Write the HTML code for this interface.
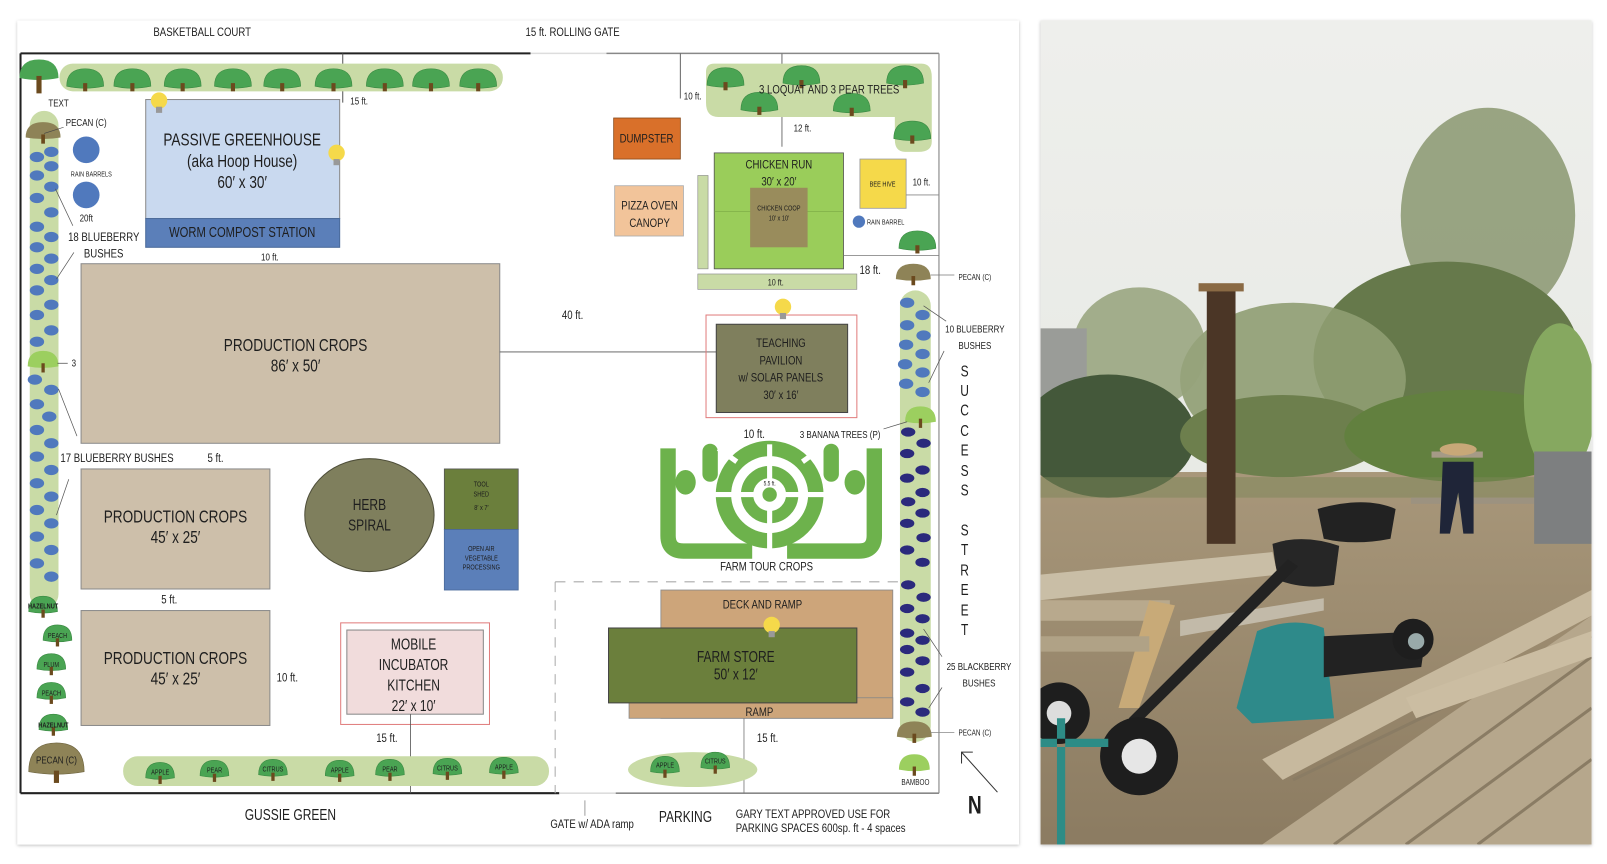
<!DOCTYPE html>
<html><head><meta charset="utf-8"><style>
html,body{margin:0;padding:0;background:#fff;width:1607px;height:864px;overflow:hidden}
svg{display:block}
text{font-family:"Liberation Sans",sans-serif;fill:#1e1e1e;text-anchor:middle;transform-box:fill-box;transform-origin:center;transform:scaleX(.78)}
text.st{text-anchor:start;transform-origin:left center}
text.en{text-anchor:end;transform-origin:right center}
.s{font-size:10px}.m{font-size:12px}.l{font-size:17px}.t{font-size:7px}
.bb{fill:#5079bd}.nb{fill:#2b2a7c}
</style></head><body>
<svg width="1607" height="864" viewBox="0 0 1566 842" preserveAspectRatio="none" xmlns="http://www.w3.org/2000/svg">
<defs>
<filter id="sh" x="-5%" y="-5%" width="110%" height="110%"><feDropShadow dx="0" dy="1" stdDeviation="1.5" flood-color="#000" flood-opacity=".25"/></filter>
<linearGradient id="sky" x1="0" y1="0" x2="0" y2="1"><stop offset="0" stop-color="#eeefec"/><stop offset="1" stop-color="#e3e5df"/></linearGradient>
<linearGradient id="gr" x1="0" y1="0" x2="0" y2="1"><stop offset="0" stop-color="#a8977a"/><stop offset="1" stop-color="#8a7a60"/></linearGradient>
<g id="tree"><path d="M-18,0 Q-18,-17 0,-17 Q18,-17 18,0 Q0,4 -18,0Z" fill="#4aa453" stroke="#3b8a43" stroke-width=".6"/><rect x="-2" y="-3" width="4" height="8" fill="#6b4a1e"/></g>
<g id="stree"><path d="M-14,0 Q-14,-15 0,-15 Q14,-15 14,0 Q0,3 -14,0Z" fill="#4aa453" stroke="#3b8a43" stroke-width=".6"/><rect x="-1.6" y="-2" width="3.2" height="8" fill="#6b4a1e"/></g>
<g id="ltree"><path d="M-15,0 Q-15,-15 0,-15 Q15,-15 15,0 Q0,3 -15,0Z" fill="#9ccf5f"/><rect x="-1.6" y="-3" width="3.2" height="9" fill="#6b4a1e"/></g>
<g id="pecan"><path d="M-17,0 Q-17,-15 0,-15 Q17,-15 17,0 Q0,3 -17,0Z" fill="#8e8357"/><rect x="-1.8" y="-3" width="3.6" height="9" fill="#6b4a1e"/></g>
<g id="bulb"><circle r="8" fill="#f5d94a"/><rect x="-3" y="6" width="6" height="6" fill="#999"/></g>
</defs>

<rect x="17" y="20" width="976" height="803" fill="#fff" filter="url(#sh)"/>
<text class="m" x="197" y="35">BASKETBALL COURT</text>
<text class="m" x="558" y="35">15 ft. ROLLING GATE</text>

<line x1="20" y1="52" x2="517" y2="52" stroke="#222" stroke-width="2"/>
<line x1="517" y1="52" x2="591" y2="52" stroke="#ddd" stroke-width="1.5"/>
<line x1="591" y1="52" x2="915" y2="52" stroke="#888" stroke-width="1.5"/>
<line x1="20" y1="52" x2="20" y2="773" stroke="#222" stroke-width="2"/>
<line x1="915" y1="52" x2="915" y2="773" stroke="#999" stroke-width="1.3"/>
<line x1="20" y1="773" x2="545" y2="773" stroke="#222" stroke-width="2"/>
<line x1="545" y1="773" x2="600" y2="773" stroke="#ddd" stroke-width="1.5"/>
<line x1="600" y1="773" x2="915" y2="773" stroke="#888" stroke-width="1.5"/>
<line x1="334" y1="52" x2="334" y2="100" stroke="#555" stroke-width="1"/>
<text class="s" x="350" y="102">15 ft.</text>
<line x1="663" y1="52" x2="663" y2="96" stroke="#666" stroke-width="1"/>
<text class="s" x="675" y="97">10 ft.</text>
<line x1="762" y1="52" x2="762" y2="143" stroke="#777" stroke-width="1"/>
<text class="s" x="782" y="128">12 ft.</text>
<path d="M541,567 H880 M541,567 V773" stroke="#aaa" stroke-width="1" stroke-dasharray="10,8" fill="none"/>

<rect x="58" y="62" width="432" height="27" rx="13" fill="#c9dba6"/>
<g transform="translate(38,76)"><path d="M-19,0 Q-19,-18 0,-18 Q19,-18 19,0 Q0,4 -19,0Z" fill="#4aa453"/><rect x="-2.5" y="-2" width="5" height="17" fill="#6b4a1e"/></g>
<use href="#tree" x="83" y="84"/><use href="#tree" x="129" y="84"/><use href="#tree" x="178" y="84"/><use href="#tree" x="227" y="84"/><use href="#tree" x="275" y="84"/><use href="#tree" x="325" y="84"/><use href="#tree" x="375" y="84"/><use href="#tree" x="420" y="84"/><use href="#tree" x="466" y="84"/>
<text class="s" x="57" y="104">TEXT</text>

<rect x="29" y="108" width="28" height="485" rx="14" fill="#c9dba6"/>
<use href="#pecan" x="42" y="134"/>
<line x1="43" y1="130" x2="62" y2="124" stroke="#444" stroke-width=".6"/>
<text class="s" x="84" y="123">PECAN (C)</text>
<g class="bb">
<ellipse cx="50" cy="148" rx="7" ry="5"/><ellipse cx="36" cy="153" rx="7" ry="5"/><ellipse cx="50" cy="162" rx="7" ry="5"/><ellipse cx="36" cy="171" rx="7" ry="5"/><ellipse cx="50" cy="182" rx="7" ry="5"/><ellipse cx="36" cy="193" rx="7" ry="5"/><ellipse cx="50" cy="207" rx="7" ry="5"/><ellipse cx="36" cy="221" rx="7" ry="5"/><ellipse cx="50" cy="231" rx="7" ry="5"/><ellipse cx="36" cy="241" rx="7" ry="5"/><ellipse cx="50" cy="252" rx="7" ry="5"/><ellipse cx="36" cy="262" rx="7" ry="5"/><ellipse cx="50" cy="273" rx="7" ry="5"/><ellipse cx="36" cy="283" rx="7" ry="5"/><ellipse cx="50" cy="297" rx="7" ry="5"/><ellipse cx="36" cy="307" rx="7" ry="5"/><ellipse cx="50" cy="322" rx="7" ry="5"/><ellipse cx="36" cy="333" rx="7" ry="5"/>
<ellipse cx="34" cy="370" rx="7" ry="5"/><ellipse cx="50" cy="380" rx="7" ry="5"/><ellipse cx="36" cy="394" rx="7" ry="5"/><ellipse cx="48" cy="406" rx="7" ry="5"/><ellipse cx="36" cy="419" rx="7" ry="5"/><ellipse cx="50" cy="432" rx="7" ry="5"/><ellipse cx="36" cy="445" rx="7" ry="5"/><ellipse cx="50" cy="458" rx="7" ry="5"/><ellipse cx="36" cy="471" rx="7" ry="5"/><ellipse cx="50" cy="484" rx="7" ry="5"/><ellipse cx="36" cy="497" rx="7" ry="5"/><ellipse cx="50" cy="510" rx="7" ry="5"/><ellipse cx="36" cy="523" rx="7" ry="5"/><ellipse cx="50" cy="536" rx="7" ry="5"/><ellipse cx="36" cy="549" rx="7" ry="5"/><ellipse cx="50" cy="562" rx="7" ry="5"/>
<circle cx="84" cy="146" r="13"/><circle cx="84" cy="190" r="13"/>
</g>
<text class="t" x="89" y="172">RAIN BARRELS</text>
<text class="s" x="84" y="216">20ft</text>
<text class="m" x="101" y="235">18 BLUEBERRY</text>
<text class="m" x="101" y="251">BUSHES</text>
<line x1="54" y1="184" x2="71" y2="220" stroke="#555" stroke-width=".7"/>
<line x1="55" y1="272" x2="72" y2="246" stroke="#555" stroke-width=".7"/>
<use href="#ltree" x="42" y="357"/>
<line x1="56" y1="354" x2="66" y2="354" stroke="#444" stroke-width=".7"/>
<text class="s" x="72" y="357">3</text>
<line x1="57" y1="379" x2="75" y2="425" stroke="#555" stroke-width=".7"/>
<line x1="67" y1="467" x2="55" y2="502" stroke="#555" stroke-width=".7"/>

<use href="#stree" x="42" y="596"/><text class="t" x="42" y="593" style="font-weight:bold">HAZELNUT</text>
<use href="#stree" x="56" y="624"/><text class="t" x="56" y="622">PEACH</text>
<use href="#stree" x="50" y="652"/><text class="t" x="50" y="650">PLUM</text>
<use href="#stree" x="50" y="680"/><text class="t" x="50" y="678">PEACH</text>
<use href="#stree" x="52" y="711"/><text class="t" x="52" y="709" style="font-weight:bold">HAZELNUT</text>
<g transform="translate(55,752)"><path d="M-27,0 Q-27,-28 0,-28 Q27,-28 27,0 Q0,5 -27,0Z" fill="#8e8357" stroke="#6e643f" stroke-width=".6"/><rect x="-2.5" y="-1" width="5" height="12" fill="#6b4a1e"/></g>
<text class="s" x="55" y="744">PECAN (C)</text>

<rect x="142" y="97" width="189" height="116" fill="#c9d9ef" stroke="#8a8a8a" stroke-width="1"/>
<rect x="142" y="213" width="189" height="28" fill="#5b7fb9" stroke="#4a6a9a" stroke-width="1"/>
<text class="l" x="236" y="142">PASSIVE GREENHOUSE</text>
<text class="l" x="236" y="163">(aka Hoop House)</text>
<text class="l" x="236" y="183">60′ x 30′</text>
<text class="m" x="236" y="231" style="font-size:14px">WORM COMPOST STATION</text>
<use href="#bulb" x="155" y="98"/><use href="#bulb" x="328" y="149"/>
<text class="s" x="263" y="254">10 ft.</text>

<rect x="79" y="257" width="408" height="175" fill="#cdbfaa" stroke="#8a8a8a" stroke-width="1"/>
<text class="l" x="288" y="342">PRODUCTION CROPS</text>
<text class="l" x="288" y="362">86′ x 50′</text>
<line x1="487" y1="343" x2="698" y2="343" stroke="#555" stroke-width=".8"/>
<text class="m" x="558" y="311">40 ft.</text>
<text class="m" x="114" y="450">17 BLUEBERRY BUSHES</text>
<text class="m" x="210" y="450">5 ft.</text>
<rect x="79" y="457" width="184" height="117" fill="#cdbfaa" stroke="#8a8a8a" stroke-width="1"/>
<text class="l" x="171" y="509">PRODUCTION CROPS</text>
<text class="l" x="171" y="529">45′ x 25′</text>
<text class="m" x="165" y="588">5 ft.</text>
<rect x="79" y="595" width="184" height="112" fill="#cdbfaa" stroke="#8a8a8a" stroke-width="1"/>
<text class="l" x="171" y="647">PRODUCTION CROPS</text>
<text class="l" x="171" y="667">45′ x 25′</text>
<text class="m" x="280" y="664">10 ft.</text>

<ellipse cx="360" cy="502" rx="63" ry="55" fill="#7f7f5d" stroke="#4f4f3a" stroke-width="1"/>
<text class="l" x="360" y="497" style="font-size:15px">HERB</text>
<text class="l" x="360" y="517" style="font-size:15px">SPIRAL</text>
<rect x="433" y="457" width="72" height="59" fill="#6b7f3c" stroke="#555" stroke-width=".8"/>
<rect x="433" y="516" width="72" height="59" fill="#5b7fb9" stroke="#4a6a9a" stroke-width=".8"/>
<text class="t" x="469" y="474">TOOL</text><text class="t" x="469" y="484">SHED</text><text class="t" x="469" y="497">8′ x 7′</text>
<text class="t" x="469" y="537">OPEN AIR</text><text class="t" x="469" y="546">VEGETABLE</text><text class="t" x="469" y="555">PROCESSING</text>

<rect x="332" y="607" width="145" height="99" fill="none" stroke="#e07d7d" stroke-width="1"/>
<rect x="338" y="614" width="133" height="82" fill="#f1dcdc" stroke="#888" stroke-width="1"/>
<text class="l" x="403" y="633" style="font-size:15px">MOBILE</text>
<text class="l" x="403" y="653" style="font-size:15px">INCUBATOR</text>
<text class="l" x="403" y="673" style="font-size:15px">KITCHEN</text>
<text class="l" x="403" y="693" style="font-size:15px">22′ x 10′</text>
<line x1="400" y1="696" x2="400" y2="773" stroke="#555" stroke-width=".8"/>
<text class="m" x="377" y="723">15 ft.</text>

<rect x="120" y="737" width="415" height="29" rx="14" fill="#c9dba6"/>
<use href="#stree" x="156" y="758"/><text class="t" x="156" y="755">APPLE</text>
<use href="#stree" x="209" y="756"/><text class="t" x="209" y="753">PEAR</text>
<use href="#stree" x="266" y="755"/><text class="t" x="266" y="752">CITRUS</text>
<use href="#stree" x="331" y="756"/><text class="t" x="331" y="753">APPLE</text>
<use href="#stree" x="380" y="755"/><text class="t" x="380" y="752">PEAR</text>
<use href="#stree" x="436" y="754"/><text class="t" x="436" y="751">CITRUS</text>
<use href="#stree" x="491" y="753"/><text class="t" x="491" y="750">APPLE</text>

<text class="l" x="283" y="799" style="font-size:15px">GUSSIE GREEN</text>
<line x1="570" y1="780" x2="570" y2="795" stroke="#888" stroke-width=".8"/>
<text class="m" x="577" y="807">GATE w/ ADA ramp</text>
<text class="l" x="668" y="801" style="font-size:15px">PARKING</text>
<text class="m st" x="717" y="797">GARY TEXT APPROVED USE FOR</text>
<text class="m st" x="717" y="811">PARKING SPACES 600sp. ft - 4 spaces</text>
<text x="950" y="793" style="font-size:24px;font-weight:bold">N</text>
<line x1="937" y1="733" x2="972" y2="772" stroke="#333" stroke-width="1"/>
<path d="M937,744 V733 H948" fill="none" stroke="#333" stroke-width="1"/>

<path d="M696,62 H898 Q908,62 908,75 V138 Q908,148 895,148 H882 Q872,148 872,136 V114 H700 Q688,114 688,100 V70 Q688,62 696,62Z" fill="#c9dba6"/>
<use href="#tree" x="707" y="83"/><use href="#tree" x="740" y="107"/><use href="#tree" x="781" y="81"/><use href="#tree" x="830" y="108"/><use href="#tree" x="882" y="81"/><use href="#tree" x="889" y="135"/><use href="#tree" x="894" y="242"/>
<line x1="762" y1="52" x2="762" y2="62" stroke="#777" stroke-width="1"/>
<text class="m" x="808" y="91">3 LOQUAT AND 3 PEAR TREES</text>
<rect x="598" y="115" width="65" height="40" fill="#d9702a" stroke="#8a4a1a" stroke-width=".8"/>
<text class="m" x="630" y="139">DUMPSTER</text>
<rect x="599" y="181" width="67" height="49" fill="#f2c49a" stroke="#aaa" stroke-width=".8"/>
<text class="m" x="633" y="204">PIZZA OVEN</text><text class="m" x="633" y="221">CANOPY</text>
<rect x="680" y="171" width="10" height="91" fill="#c9dba6" stroke="#888" stroke-width=".6"/>
<rect x="696" y="149" width="126" height="113" fill="#9acd5a" stroke="#555" stroke-width=".8"/>
<line x1="696" y1="206" x2="822" y2="206" stroke="#7aa845" stroke-width=".6"/>
<rect x="731" y="183" width="56" height="58" fill="#998c5c"/>
<text class="m" x="759" y="164">CHICKEN RUN</text><text class="m" x="759" y="181">30′ x 20′</text>
<text class="t" x="759" y="205">CHICKEN COOP</text><text class="t" x="759" y="215">10′ x 10′</text>
<rect x="680" y="267" width="155" height="15" fill="#c9dba6" stroke="#888" stroke-width=".6"/>
<text class="t" x="756" y="278" style="font-size:9px">10 ft.</text>
<rect x="838" y="155" width="45" height="48" fill="#f5d94a" stroke="#999" stroke-width=".8"/>
<text class="t" x="860" y="182">BEE HIVE</text>
<line x1="883" y1="190" x2="915" y2="190" stroke="#888" stroke-width=".8"/>
<text class="s" x="898" y="181">10 ft.</text>
<circle cx="837" cy="216" r="6" fill="#5079bd"/>
<text class="t" x="863" y="219">RAIN BARREL</text>
<line x1="822" y1="249" x2="915" y2="249" stroke="#777" stroke-width=".8"/>
<text class="m" x="848" y="267">18 ft.</text>
<use href="#pecan" x="890" y="272"/>
<line x1="907" y1="268" x2="930" y2="268" stroke="#777" stroke-width=".7"/>
<text class="t" x="950" y="273" style="font-size:8px">PECAN (C)</text>

<rect x="688" y="307" width="147" height="100" fill="none" stroke="#e07d7d" stroke-width="1"/>
<rect x="698" y="316" width="128" height="86" fill="#7f7f5d" stroke="#444" stroke-width="1"/>
<use href="#bulb" x="763" y="299"/>
<text class="m" x="761" y="338">TEACHING</text><text class="m" x="761" y="355">PAVILION</text>
<text class="m" x="761" y="372">w/ SOLAR PANELS</text><text class="m" x="761" y="389">30′ x 16′</text>

<rect x="877" y="283" width="30" height="440" rx="15" fill="#c9dba6"/>
<g class="bb"><ellipse cx="884" cy="295" rx="7" ry="5"/><ellipse cx="899" cy="307" rx="7" ry="5"/><ellipse cx="884" cy="317" rx="7" ry="5"/><ellipse cx="900" cy="327" rx="7" ry="5"/><ellipse cx="883" cy="336" rx="7" ry="5"/><ellipse cx="899" cy="345" rx="7" ry="5"/><ellipse cx="882" cy="355" rx="7" ry="5"/><ellipse cx="899" cy="363" rx="7" ry="5"/><ellipse cx="883" cy="374" rx="7" ry="5"/><ellipse cx="899" cy="382" rx="7" ry="5"/></g>
<use href="#ltree" x="897" y="411"/>
<g class="nb"><ellipse cx="885" cy="421" rx="7" ry="4.5"/><ellipse cx="900" cy="432" rx="7" ry="4.5"/><ellipse cx="884" cy="442" rx="7" ry="4.5"/><ellipse cx="899" cy="458" rx="7" ry="4.5"/><ellipse cx="884" cy="466" rx="7" ry="4.5"/><ellipse cx="899" cy="480" rx="7" ry="4.5"/><ellipse cx="885" cy="489" rx="7" ry="4.5"/><ellipse cx="899" cy="500" rx="7" ry="4.5"/><ellipse cx="884" cy="510" rx="7" ry="4.5"/><ellipse cx="900" cy="524" rx="7" ry="4.5"/><ellipse cx="884" cy="536" rx="7" ry="4.5"/><ellipse cx="899" cy="548" rx="7" ry="4.5"/><ellipse cx="885" cy="570" rx="7" ry="4.5"/><ellipse cx="900" cy="582" rx="7" ry="4.5"/><ellipse cx="884" cy="593" rx="7" ry="4.5"/><ellipse cx="899" cy="603" rx="7" ry="4.5"/><ellipse cx="884" cy="617" rx="7" ry="4.5"/><ellipse cx="899" cy="624" rx="7" ry="4.5"/><ellipse cx="884" cy="633" rx="7" ry="4.5"/><ellipse cx="899" cy="644" rx="7" ry="4.5"/><ellipse cx="884" cy="655" rx="7" ry="4.5"/><ellipse cx="899" cy="671" rx="7" ry="4.5"/><ellipse cx="884" cy="684" rx="7" ry="4.5"/><ellipse cx="899" cy="694" rx="7" ry="4.5"/></g>
<use href="#pecan" x="891" y="718"/>
<use href="#ltree" x="891" y="750"/>
<text class="t" x="892" y="765" style="font-size:8px">BAMBOO</text>
<line x1="907" y1="714" x2="930" y2="714" stroke="#888" stroke-width=".7"/>
<text class="t" x="950" y="717" style="font-size:8px">PECAN (C)</text>
<text class="s" x="950" y="324">10 BLUEBERRY</text><text class="s" x="950" y="340">BUSHES</text>
<line x1="900" y1="298" x2="922" y2="313" stroke="#555" stroke-width=".7"/>
<line x1="905" y1="373" x2="920" y2="342" stroke="#555" stroke-width=".7"/>
<text class="s" x="954" y="653">25 BLACKBERRY</text><text class="s" x="954" y="669">BUSHES</text>
<line x1="900" y1="613" x2="918" y2="640" stroke="#555" stroke-width=".7"/>
<line x1="905" y1="690" x2="918" y2="670" stroke="#555" stroke-width=".7"/>
<text class="en" x="858" y="427" style="font-size:10px">3 BANANA TREES (P)</text>
<line x1="861" y1="418" x2="884" y2="411" stroke="#555" stroke-width=".7"/>
<text class="m" x="735" y="427">10 ft.</text>
<g style="font-size:15px">
<text x="940" y="367">S</text><text x="940" y="386">U</text><text x="940" y="405">C</text><text x="940" y="425">C</text><text x="940" y="444">E</text><text x="940" y="464">S</text><text x="940" y="483">S</text>
<text x="940" y="522">S</text><text x="940" y="541">T</text><text x="940" y="561">R</text><text x="940" y="580">E</text><text x="940" y="600">E</text><text x="940" y="619">T</text>
</g>

<g fill="none" stroke="#6db24c">
<path d="M651,437 V522 Q651,537 666,537 H733" stroke-width="15"/>
<path d="M852,437 V522 Q852,537 837,537 H767" stroke-width="15"/>
<path d="M692,440 V462" stroke-width="15" stroke-linecap="round"/>
<path d="M810,440 V462" stroke-width="15" stroke-linecap="round"/>
<circle cx="750" cy="482" r="22" stroke-width="12"/>
<circle cx="750" cy="482" r="45" stroke-width="15"/>
</g>
<circle cx="750" cy="482" r="7" fill="#6db24c"/>
<ellipse cx="668" cy="470" rx="10" ry="12" fill="#6db24c"/>
<ellipse cx="833" cy="470" rx="10" ry="12" fill="#6db24c"/>
<g stroke="#fff" stroke-width="5">
<line x1="750" y1="433" x2="750" y2="474"/><line x1="750" y1="490" x2="750" y2="546"/>
<line x1="690" y1="482" x2="742" y2="482"/><line x1="758" y1="482" x2="812" y2="482"/>
<line x1="700" y1="437" x2="718" y2="450"/><line x1="800" y1="437" x2="782" y2="450"/>
</g>
<text class="t" x="750" y="473" style="font-size:6px">5.5 ft.</text>
<text class="m" x="747" y="556">FARM TOUR CROPS</text>

<rect x="644" y="575" width="226" height="125" fill="#cda57a" stroke="#888" stroke-width=".8"/>
<rect x="613" y="680" width="257" height="20" fill="#cda57a" stroke="#888" stroke-width=".8"/>
<rect x="593" y="612" width="242" height="73" fill="#6b7f3c" stroke="#444" stroke-width="1"/>
<text class="m" x="743" y="593">DECK AND RAMP</text>
<text class="l" x="717" y="645" style="font-size:15px">FARM STORE</text>
<text class="l" x="717" y="662" style="font-size:15px">50′ x 12′</text>
<text class="m" x="740" y="698">RAMP</text>
<use href="#bulb" x="752" y="609"/>
<line x1="725" y1="700" x2="725" y2="773" stroke="#777" stroke-width=".8"/>
<text class="m" x="748" y="723">15 ft.</text>
<ellipse cx="675" cy="750" rx="63" ry="17" fill="#c9dba6"/>
<use href="#stree" x="648" y="752"/><text class="t" x="648" y="748">APPLE</text>
<use href="#stree" x="697" y="748"/><text class="t" x="697" y="744">CITRUS</text>

<!-- photo -->
<g filter="url(#sh)"><rect x="1014" y="20" width="537" height="803" fill="#e8e9e6"/></g>
<clipPath id="pc"><rect x="1014" y="20" width="537" height="803"/></clipPath>
<g clip-path="url(#pc)">
<rect x="1014" y="20" width="537" height="803" fill="url(#sky)"/>
<rect x="1014" y="460" width="537" height="380" fill="url(#gr)"/>
<ellipse cx="1450" cy="210" rx="85" ry="105" fill="#8a9670" opacity=".85"/>
<ellipse cx="1410" cy="350" rx="130" ry="95" fill="#66794b"/>
<ellipse cx="1260" cy="370" rx="110" ry="75" fill="#8f9d72" opacity=".9"/>
<ellipse cx="1110" cy="340" rx="65" ry="60" fill="#95a27a" opacity=".85"/>
<rect x="1014" y="320" width="45" height="100" fill="#9a9c98"/>
<ellipse cx="1080" cy="425" rx="85" ry="60" fill="#44583a"/>
<ellipse cx="1250" cy="425" rx="100" ry="40" fill="#6d7f4d"/>
<ellipse cx="1430" cy="425" rx="120" ry="45" fill="#62803f"/>
<ellipse cx="1520" cy="390" rx="35" ry="75" fill="#86a860"/>
<rect x="1014" y="465" width="537" height="20" fill="#7c8658" opacity=".5"/>
<rect x="1176" y="280" width="28" height="250" fill="#4b3626"/>
<rect x="1168" y="276" width="44" height="8" fill="#8a6a44"/>
<path d="M1284,496 Q1330,483 1360,496 L1355,525 Q1320,532 1290,525Z" fill="#222"/>
<path d="M1240,530 Q1270,520 1305,532 L1300,570 Q1270,575 1245,565Z" fill="#262626"/>
<rect x="1395" y="440" width="50" height="6" fill="#a59a86"/>
<rect x="1375" y="485" width="120" height="6" fill="#9c9280"/>
<path d="M1406,450 h30 v70 h-10 l-5,-40 -8,40 h-10Z" fill="#1f2538"/>
<ellipse cx="1421" cy="438" rx="18" ry="6" fill="#c8a878"/>
<rect x="1495" y="440" width="56" height="90" fill="#7d7f80"/>
<path d="M1014,560 L1240,538 L1245,560 L1014,585Z" fill="#c9bea6"/>
<path d="M1014,585 H1140 V605 H1014Z" fill="#b8a98d"/>
<path d="M1120,585 L1145,590 L1110,690 L1090,690Z" fill="#c8aa78"/>
<path d="M1150,605 L1290,583 L1290,595 L1150,620Z" fill="#c2baa9"/>
<path d="M1014,620 H1120 V635 H1014Z" fill="#b0a286"/>
<path d="M1100,700 L1255,545 L1265,552 L1110,705Z" fill="#222"/>
<path d="M1225,615 Q1260,600 1290,612 L1300,700 L1220,705 L1205,690Z" fill="#2e8a8a"/>
<path d="M1290,620 L1390,615 L1385,650 L1290,660Z" fill="#222"/>
<circle cx="1377" cy="623" r="20" fill="#1e1e1e"/><circle cx="1380" cy="625" r="8" fill="#9aa"/>
<circle cx="1110" cy="737" r="38" fill="#1e1e1e"/><circle cx="1110" cy="737" r="17" fill="#e6e6e6"/>
<circle cx="1032" cy="695" r="30" fill="#1e1e1e"/><circle cx="1032" cy="695" r="12" fill="#ddd"/>
<path d="M1014,720 H1080 V728 H1014Z M1030,700 V823 H1038 V700Z" fill="#2d8c86"/>
<path d="M1230,823 L1551,600 V823Z" fill="#b6a78c"/>
<g stroke="#8a7c64" stroke-width="3">
<line x1="1300" y1="823" x2="1551" y2="640"/><line x1="1370" y1="823" x2="1551" y2="690"/><line x1="1440" y1="823" x2="1551" y2="740"/>
<line x1="1260" y1="760" x2="1551" y2="620"/>
</g>
<path d="M1230,740 L1551,575 V600 L1250,760Z" fill="#c7b99e"/>
<path d="M1370,680 L1551,615 V640 L1380,700Z" fill="#cbbda2"/>
</g>
</svg>
</body></html>
